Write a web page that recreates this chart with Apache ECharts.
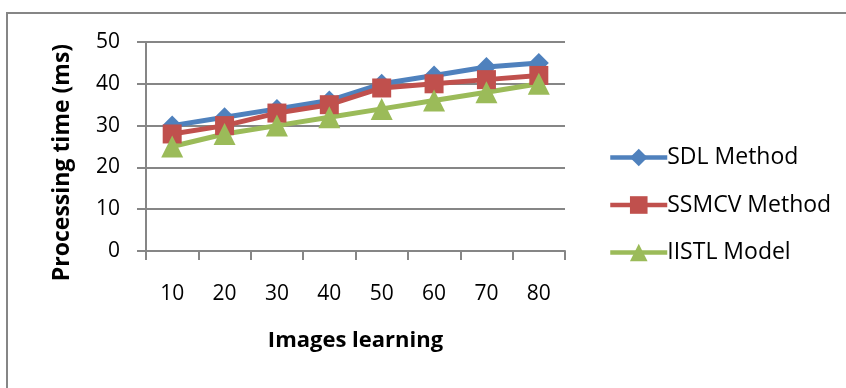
<!DOCTYPE html>
<html>
<head>
<meta charset="utf-8">
<script src="https://cdn.jsdelivr.net/npm/echarts@6/dist/echarts.min.js"></script>
<style>
  html, body { margin: 0; padding: 0; background: #fff; }
  #chart { width: 846px; height: 388px; }
</style>
</head>
<body>
<div id="chart"></div>
<script>
// Number of learning images per run
const categories = ['10', '20', '30', '40', '50', '60', '70', '80'];

// Processing time (ms) for each method
const sdlMethod = [30, 32, 34, 36, 40, 42, 44, 45];
const ssmcvMethod = [28, 30, 33, 35, 39, 40, 41, 42];
const iistlModel = [25, 28, 30, 32, 34, 36, 38, 40];

const yTicks = [0, 10, 20, 30, 40, 50];

const FONT = '"Open Sans", "Noto Sans", sans-serif';
const GRID = '#868686';

const chart = echarts.init(document.getElementById('chart'), null, { renderer: 'canvas' });

function lineSeries(name, data, color, symbol, size) {
  return {
    name: name,
    type: 'line',
    data: data,
    symbol: symbol,
    symbolSize: size,
    showAllSymbol: true,
    lineStyle: { color: color, width: 5 },
    itemStyle: { color: color },
    emphasis: { disabled: true },
    z: 3
  };
}

chart.setOption({
  animation: false,
  backgroundColor: '#ffffff',
  graphic: [{
    type: 'rect',
    shape: { x: 7, y: 13, width: 900, height: 500 },
    style: { fill: 'none', stroke: GRID, lineWidth: 2 },
    silent: true
  }],
  grid: { left: 146, right: 281, top: 42, bottom: 137 },
  legend: {
    orient: 'vertical',
    left: 603,
    top: 141,
    itemWidth: 57,
    itemHeight: 22,
    itemGap: 24.5,
    lineStyle: { width: 4.5 },
    textStyle: { fontFamily: FONT, fontSize: 23, color: '#000', padding: [0, 0, 0, -5] },
    data: ['SDL Method', 'SSMCV Method', 'IISTL Model']
  },
  xAxis: {
    type: 'category',
    data: categories,
    boundaryGap: true,
    name: 'Images learning',
    nameLocation: 'middle',
    nameGap: 79,
    nameTextStyle: { fontFamily: FONT, fontSize: 22, fontWeight: 'bold', color: '#000' },
    axisLine: { lineStyle: { color: GRID, width: 2 } },
    axisTick: { show: true, alignWithLabel: false, length: 9, lineStyle: { color: GRID, width: 2 } },
    axisLabel: { fontFamily: FONT, fontSize: 21, color: '#000', margin: 33 }
  },
  yAxis: {
    type: 'value',
    min: 0,
    max: 50,
    interval: 10,
    name: 'Processing time (ms)',
    nameLocation: 'middle',
    nameGap: 72,
    nameTextStyle: {
      fontFamily: FONT, fontSize: 23, fontWeight: 'bold', color: '#000',
      padding: [0, 32, 0, 0]
    },
    axisLine: { show: true, lineStyle: { color: GRID, width: 2 } },
    axisTick: { show: true, length: 9, lineStyle: { color: GRID, width: 2 } },
    splitLine: { show: true, lineStyle: { color: GRID, width: 2 } },
    axisLabel: {
      fontFamily: FONT, fontSize: 21, color: '#000', margin: 26,
      formatter: function (v) { return yTicks.indexOf(v) >= 0 ? String(v) : ''; }
    }
  },
  series: [
    lineSeries('SDL Method', sdlMethod, '#4F81BD', 'diamond', 20),
    lineSeries('SSMCV Method', ssmcvMethod, '#C0504D', 'rect', 19),
    lineSeries('IISTL Model', iistlModel, '#9BBB59', 'triangle', 22)
  ]
});
</script>
</body>
</html>
